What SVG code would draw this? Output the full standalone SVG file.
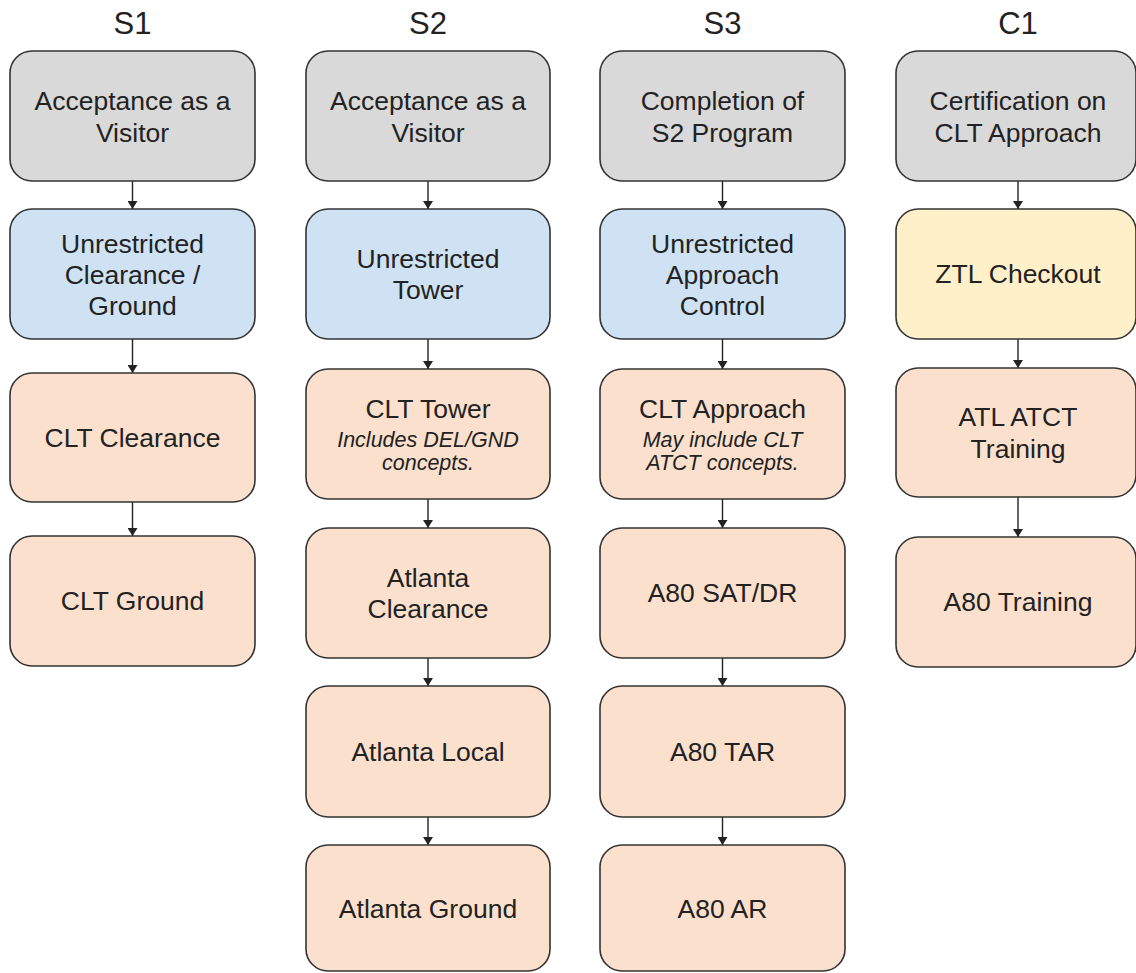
<svg xmlns="http://www.w3.org/2000/svg" width="1136" height="973" viewBox="0 0 1136 973">
<defs>
<style>
.bx{stroke:#333333;stroke-width:1.6}
.g{fill:#d9d9d9}.b{fill:#cfe2f3}.p{fill:#fbe1cd}.y{fill:#fff0c9}
text{font-family:"Liberation Sans",Arial,sans-serif;fill:#222222;text-anchor:middle}
.t{font-size:26.5px}
.i{font-size:21.5px;font-style:italic}
.h{font-size:31px}
.c{stroke:#222222;stroke-width:1.4;fill:none;marker-end:url(#ah)}
</style>
<marker id="ah" markerUnits="userSpaceOnUse" viewBox="0 0 8 10" refX="8" refY="5" markerWidth="8" markerHeight="10" orient="auto">
<path d="M0,0 L8,5 L0,10 z" fill="#222222"/>
</marker>
</defs>
<rect width="1136" height="973" fill="#ffffff"/>
<g id="titles">
<text class="h" x="132.5" y="34">S1</text>
<text class="h" x="428" y="34">S2</text>
<text class="h" x="722.5" y="34">S3</text>
<text class="h" x="1018" y="34">C1</text>
</g>
<g id="connectors">
<line class="c" x1="132.5" y1="181" x2="132.5" y2="209"/>
<line class="c" x1="132.5" y1="339" x2="132.5" y2="373"/>
<line class="c" x1="132.5" y1="502" x2="132.5" y2="536"/>
<line class="c" x1="428" y1="181" x2="428" y2="209"/>
<line class="c" x1="428" y1="339" x2="428" y2="369"/>
<line class="c" x1="428" y1="499" x2="428" y2="528"/>
<line class="c" x1="428" y1="658" x2="428" y2="686"/>
<line class="c" x1="428" y1="817" x2="428" y2="845"/>
<line class="c" x1="722.5" y1="181" x2="722.5" y2="209"/>
<line class="c" x1="722.5" y1="339" x2="722.5" y2="369"/>
<line class="c" x1="722.5" y1="499" x2="722.5" y2="528"/>
<line class="c" x1="722.5" y1="658" x2="722.5" y2="686"/>
<line class="c" x1="722.5" y1="817" x2="722.5" y2="845"/>
<line class="c" x1="1018" y1="181" x2="1018" y2="209"/>
<line class="c" x1="1018" y1="339" x2="1018" y2="368"/>
<line class="c" x1="1018" y1="497" x2="1018" y2="537"/>
</g>
<g id="s1-visitor"><rect class="bx g" x="10" y="51" width="245" height="130" rx="22"/><text class="t" x="132.5" y="110">Acceptance as a</text><text class="t" x="132.5" y="141.5">Visitor</text></g>
<g id="s1-unrestricted"><rect class="bx b" x="10" y="209" width="245" height="130" rx="22"/><text class="t" x="132.5" y="252.5">Unrestricted</text><text class="t" x="132.5" y="283.5">Clearance /</text><text class="t" x="132.5" y="314.5">Ground</text></g>
<g id="s1-clt-clearance"><rect class="bx p" x="10" y="373" width="245" height="129" rx="22"/><text class="t" x="132.5" y="446.5">CLT Clearance</text></g>
<g id="s1-clt-ground"><rect class="bx p" x="10" y="536" width="245" height="130" rx="22"/><text class="t" x="132.5" y="610">CLT Ground</text></g>

<g id="s2-visitor"><rect class="bx g" x="306" y="51" width="244" height="130" rx="22"/><text class="t" x="428" y="110">Acceptance as a</text><text class="t" x="428" y="141.5">Visitor</text></g>
<g id="s2-unrestricted"><rect class="bx b" x="306" y="209" width="244" height="130" rx="22"/><text class="t" x="428" y="268">Unrestricted</text><text class="t" x="428" y="299">Tower</text></g>
<g id="s2-clt-tower"><rect class="bx p" x="306" y="369" width="244" height="130" rx="22"/><text class="t" x="428" y="418">CLT Tower</text><text class="i" x="428" y="447">Includes DEL/GND</text><text class="i" x="428" y="470">concepts.</text></g>
<g id="s2-atl-clearance"><rect class="bx p" x="306" y="528" width="244" height="130" rx="22"/><text class="t" x="428" y="587">Atlanta</text><text class="t" x="428" y="618">Clearance</text></g>
<g id="s2-atl-local"><rect class="bx p" x="306" y="686" width="244" height="131" rx="22"/><text class="t" x="428" y="760.5">Atlanta Local</text></g>
<g id="s2-atl-ground"><rect class="bx p" x="306" y="845" width="244" height="126" rx="22"/><text class="t" x="428" y="918">Atlanta Ground</text></g>

<g id="s3-completion"><rect class="bx g" x="600" y="51" width="245" height="130" rx="22"/><text class="t" x="722.5" y="110">Completion of</text><text class="t" x="722.5" y="141.5">S2 Program</text></g>
<g id="s3-unrestricted"><rect class="bx b" x="600" y="209" width="245" height="130" rx="22"/><text class="t" x="722.5" y="252.5">Unrestricted</text><text class="t" x="722.5" y="283.5">Approach</text><text class="t" x="722.5" y="314.5">Control</text></g>
<g id="s3-clt-approach"><rect class="bx p" x="600" y="369" width="245" height="130" rx="22"/><text class="t" x="722.5" y="417.5">CLT Approach</text><text class="i" x="722.5" y="447">May include CLT</text><text class="i" x="722.5" y="470">ATCT concepts.</text></g>
<g id="s3-sat-dr"><rect class="bx p" x="600" y="528" width="245" height="130" rx="22"/><text class="t" x="722.5" y="602">A80 SAT/DR</text></g>
<g id="s3-tar"><rect class="bx p" x="600" y="686" width="245" height="131" rx="22"/><text class="t" x="722.5" y="760.5">A80 TAR</text></g>
<g id="s3-ar"><rect class="bx p" x="600" y="845" width="245" height="126" rx="22"/><text class="t" x="722.5" y="918">A80 AR</text></g>

<g id="c1-certification"><rect class="bx g" x="896" y="51" width="240" height="130" rx="22"/><text class="t" x="1018" y="110">Certification on</text><text class="t" x="1018" y="141.5">CLT Approach</text></g>
<g id="c1-ztl-checkout"><rect class="bx y" x="896" y="209" width="240" height="130" rx="22"/><text class="t" x="1018" y="283">ZTL Checkout</text></g>
<g id="c1-atl-atct"><rect class="bx p" x="896" y="368" width="240" height="129" rx="22"/><text class="t" x="1018" y="426">ATL ATCT</text><text class="t" x="1018" y="457.5">Training</text></g>
<g id="c1-a80-training"><rect class="bx p" x="896" y="537" width="240" height="130" rx="22"/><text class="t" x="1018" y="611">A80 Training</text></g>
</svg>
